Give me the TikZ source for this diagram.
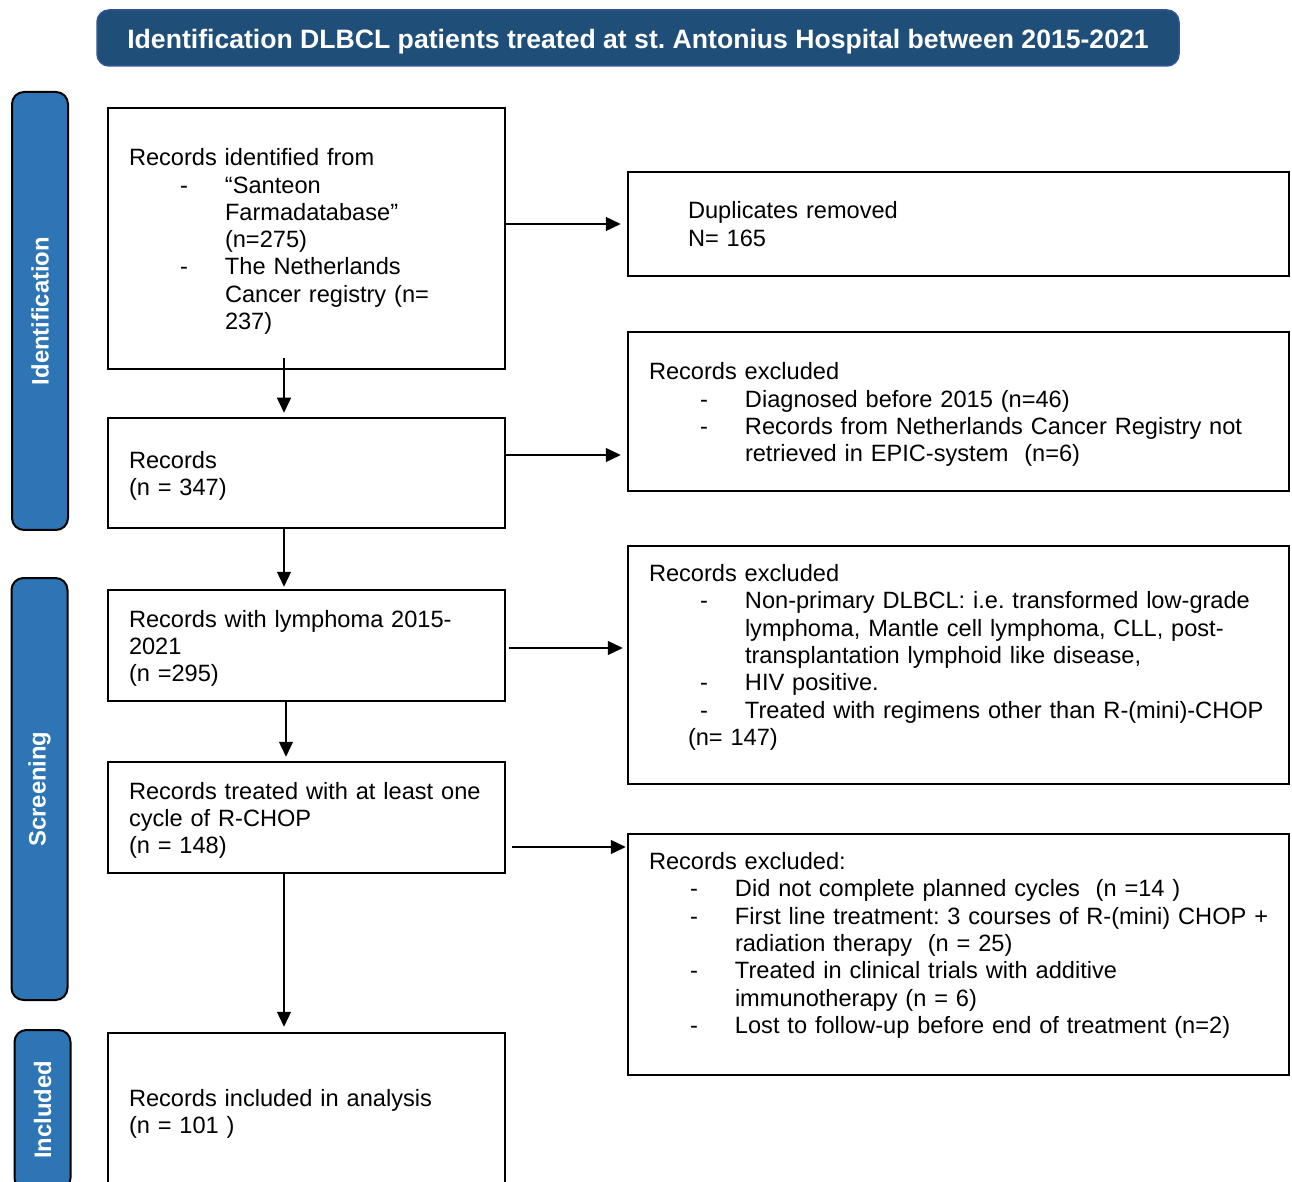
\documentclass[tikz,border=0pt]{standalone}
\usepackage{fontspec}
\setmainfont{Liberation Sans}
\usetikzlibrary{arrows.meta,positioning,calc}
\definecolor{navy}{HTML}{1F4E79}
\definecolor{navyrim}{HTML}{2F5597}
\definecolor{phase}{HTML}{2E75B6}
\newcommand{\itm}[2][25.5pt]{\mbox{\hspace*{#1}\makebox[22.5pt][l]{-}#2}}
\newcommand{\cnt}[2][48pt]{\mbox{\hspace*{#1}#2}}
\tikzset{>={Triangle[length=7.5pt,width=7pt]},box/.style={draw,line width=1.25pt,align=left,inner xsep=10.5pt,inner ysep=0pt,font=\frenchspacing\fontsize{11.8}{13.65}\selectfont},nudge/.style={execute at begin node={\rule{0pt}{11.6pt}}},lbox/.style={box,nudge,minimum width=198.5pt,text width=177.5pt},rbox/.style={box,minimum width=330.5pt,text width=309.5pt},phasebar/.style={draw,line width=1pt,fill=phase,rounded corners=6pt,rotate=90,minimum height=28pt,text=white,font=\bfseries\fontsize{11.9}{14}\selectfont},headbox/.style={draw=navyrim,line width=0.75pt,fill=navy,rounded corners=6pt,minimum width=541pt,minimum height=28pt,text height=11pt,text depth=0pt,text=white,font=\frenchspacing\bfseries\fontsize{13.3}{16}\selectfont},arr/.style={->,line width=0.65pt,shorten >=2pt}}

\begin{document}
\begin{tikzpicture}[x=0.5pt,y=-0.5pt]
\useasboundingbox (0,0) rectangle (1292,1182);
\node[headbox] (head) at (638,38) {Identification DLBCL patients treated at st. Antonius Hospital between 2015-2021};
\node[phasebar,minimum width=219pt] (idbar) at (40,311) {Identification};
\node[phasebar,minimum width=211pt] (scbar) at (39.5,789) {Screening};
\node[phasebar,minimum width=80pt] (inbar) at (42.5,1110) {Included};
\node[lbox,minimum height=130.5pt] (rec) at (306.5,238.5) {Records identified from\\ \itm{``Santeon}\\ \cnt{Farmadatabase''}\\ \cnt{(n=275)}\\ \itm{The Netherlands}\\ \cnt{Cancer registry (n=}\\ \cnt{237)}};
\node[rbox,minimum height=52pt] (dup) at (958.5,224) {\cnt[19.5pt]{Duplicates removed}\\ \cnt[19.5pt]{N= 165}};
\node[lbox,minimum height=55pt] (scr) at (306.5,473) {Records\\(n = 347)};
\node[rbox,nudge,minimum height=79.5pt] (exc1) at (958.5,411.5) {Records excluded\\ \itm{Diagnosed before 2015 (n=46)}\\ \itm{Records from Netherlands Cancer Registry not}\\ \cnt{retrieved in EPIC-system~~(n=6)}};
\node[lbox,minimum height=55.5pt] (lym) at (306.5,645.5) {Records with lymphoma 2015-\\2021\\(n =295)};
\node[rbox,minimum height=119pt] (exc2) at (958.5,665) {Records excluded\\ \itm{Non-primary DLBCL: i.e. transformed low-grade}\\ \cnt{lymphoma, Mantle cell lymphoma, CLL, post-}\\ \cnt{transplantation lymphoid like disease,}\\ \itm{HIV positive.}\\ \itm{Treated with regimens other than R-(mini)-CHOP}\\ \cnt[19.5pt]{(n= 147)}\\[-3.65pt]\mbox{}};
\node[lbox,minimum height=55.5pt] (rch) at (306.5,817.5) {\mbox{Records treated with at least one}\\cycle of R-CHOP\\(n = 148)};
\node[rbox,minimum height=120.5pt] (exc3) at (958.5,954.5) {Records excluded:\\ \itm[20.5pt]{Did not complete planned cycles~~(n =14 )}\\ \itm[20.5pt]{First line treatment: 3 courses of R-(mini) CHOP +}\\ \cnt[43pt]{radiation therapy~~(n = 25)}\\ \itm[20.5pt]{Treated in clinical trials with additive}\\ \cnt[43pt]{immunotherapy (n = 6)}\\ \itm[20.5pt]{Lost to follow-up before end of treatment (n=2)}\\[-2.15pt]\mbox{}};
\node[lbox,minimum height=78pt] (inc) at (306.5,1111) {Records included in analysis\\(n = 101 )};
\path ([xshift=-11.25pt,yshift=6pt]rec.south) coordinate (d1);
\path ([yshift=9pt]scr.east) coordinate (h2);
\path ([xshift=-11.25pt]scr.south) coordinate (d2);
\path ([xshift=1.5pt,yshift=-1.25pt]lym.east) coordinate (h3);
\path ([xshift=-10.25pt]lym.south) coordinate (d3);
\path ([xshift=3pt,yshift=-14.75pt]rch.east) coordinate (h4);
\path ([xshift=-11.25pt]rch.south) coordinate (d4);
\draw[arr,shorten >=3pt] (rec.east |- dup.west) -- (dup.west);
\draw[arr,shorten >=3pt] (h2) -- (h2 -| exc1.west);
\draw[arr] (h3) -- (h3 -| exc2.west);
\draw[arr,shorten >=0.5pt] (h4) -- (h4 -| exc3.west);
\draw[arr] (d1) -- (d1 |- scr.north);
\draw[arr,shorten >=1pt] (d2) -- (d2 |- lym.north);
\draw[arr] (d3) -- (d3 |- rch.north);
\draw[arr,shorten >=2.5pt] (d4) -- (d4 |- inc.north);
\end{tikzpicture}
\end{document}
